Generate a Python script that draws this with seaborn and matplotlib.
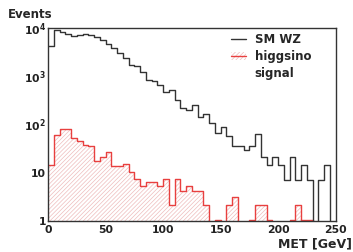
import numpy as np
import matplotlib
matplotlib.use("Agg")
import matplotlib.pyplot as plt
import matplotlib.patches as mpatches
from matplotlib.lines import Line2D
from matplotlib.ticker import FixedLocator, LogLocator, MultipleLocator, NullFormatter
import seaborn as sns

# MET binning (5 GeV bins, 0-250 GeV)
bin_edges = list(range(0, 255, 5))
bin_centers = [e + 2.5 for e in bin_edges[:-1]]

# SM WZ background, events per bin
sm_wz = [4200, 8900, 8300, 7600, 6800, 7200, 7500, 7200, 6600, 5700,
         4700, 3800, 3100, 2370, 1740, 1620, 1250, 840, 790, 660,
         470, 525, 325, 215, 195, 255, 145, 165, 107, 66,
         90, 58, 36, 36, 29, 36, 64, 21, 14.5, 21,
         14.5, 7, 21, 7, 14.5, 7, 0, 7, 14.5, 0]

# higgsino signal, events per bin
higgsino = [14.3, 60, 82, 80, 52, 46, 38, 35, 17.3, 21.5,
            27, 14, 14, 15, 10.5, 7.4, 5.3, 6.4, 6.4, 5.3,
            7.4, 2.1, 7.4, 4.25, 5.3, 4.25, 4.25, 2.1, 0, 1.06,
            0, 2.1, 3.2, 0, 0, 1.06, 2.1, 2.1, 1.06, 0,
            0, 0, 1.06, 2.1, 1.06, 1.06, 0, 0, 0, 0]

y_ticks = [1, 10, 100, 1000, 10000]
y_tick_labels = ["1", "10", r"$\mathbf{10^{2}}$", r"$\mathbf{10^{3}}$", r"$\mathbf{10^{4}}$"]
x_ticks = [0, 50, 100, 150, 200, 250]

sns.set_style("white")
plt.rcParams["font.family"] = ["DejaVu Sans"]
plt.rcParams["font.weight"] = "bold"
plt.rcParams["mathtext.fontset"] = "dejavusans"
plt.rcParams["hatch.linewidth"] = 0.5

wz_color = "#333333"
sig_color = "#e8403f"
hatch_color = "#eebcbc"

fig = plt.figure(figsize=(3.53, 2.52), dpi=100)
ax = fig.add_axes([0.136, 0.123, 0.815, 0.766])

# signal hatched fill
sns.histplot(x=bin_centers, weights=higgsino, bins=bin_edges, element="step",
             fill=True, color=hatch_color, facecolor="none", edgecolor=hatch_color,
             linewidth=0, hatch="////////", ax=ax)
# signal outline
sns.histplot(x=bin_centers, weights=higgsino, bins=bin_edges, element="step",
             fill=False, color=sig_color, linewidth=1.0, ax=ax)
# SM WZ outline
sns.histplot(x=bin_centers, weights=sm_wz, bins=bin_edges, element="step",
             fill=False, color=wz_color, linewidth=1.0, ax=ax)

ax.set_yscale("log")
ax.set_ylim(1, 1e4)
ax.set_xlim(0, 250)
ax.set_xlabel("")
ax.set_ylabel("")

ax.yaxis.set_major_locator(FixedLocator(y_ticks))
ax.set_yticklabels(y_tick_labels)
ax.yaxis.set_minor_locator(LogLocator(base=10, subs=np.arange(2, 10)))
ax.yaxis.set_minor_formatter(NullFormatter())
ax.set_xticks(x_ticks)
ax.xaxis.set_minor_locator(MultipleLocator(10))

ax.tick_params(which="both", direction="in", top=False, right=False,
               colors="#222222", labelsize=7.8)
ax.tick_params(axis="y", which="major", length=6.5, width=0.8, pad=1.5)
ax.tick_params(axis="y", which="minor", length=3.2, width=0.6)
ax.tick_params(axis="x", which="major", length=4.3, width=0.8, pad=3)
ax.tick_params(axis="x", which="minor", length=2.2, width=0.6)
for lab in ax.get_xticklabels() + ax.get_yticklabels():
    lab.set_fontweight("bold")

for s in ax.spines.values():
    s.set_color("#333333")
    s.set_linewidth(1.0)

fig.text(0.022, 0.93, "Events", fontsize=8.5, fontweight="bold", ha="left", va="baseline")
fig.text(0.998, 0.02, "MET [GeV]", fontsize=9, fontweight="bold", ha="right", va="baseline")

# legend
wz_handle = Line2D([], [], color=wz_color, linewidth=1.0)
sig_patch = mpatches.Patch(facecolor="none", edgecolor=hatch_color, hatch="////////", linewidth=0)
sig_line = Line2D([], [], color=sig_color, linewidth=1.0)
blank = Line2D([], [], color="none")
leg = ax.legend([wz_handle, (sig_patch, sig_line), blank],
                ["SM WZ", "higgsino", "signal"],
                loc="upper left", bbox_to_anchor=(0.607, 1.016), frameon=False,
                fontsize=8.5, handlelength=1.3, handletextpad=0.7,
                labelspacing=0.35, borderpad=0.2)
for t in leg.get_texts():
    t.set_fontweight("bold")

fig.savefig("out.png", dpi=100)
